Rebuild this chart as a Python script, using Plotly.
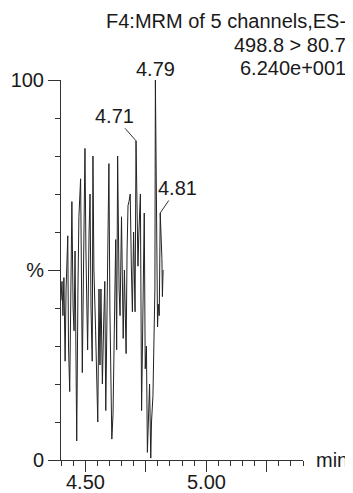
import plotly.graph_objects as go

# Retention time (min) and relative intensity (%)
time_min = [4.400, 4.404, 4.408, 4.412, 4.417, 4.421, 4.428, 4.431, 4.436, 4.441,
            4.445, 4.450, 4.454, 4.458, 4.465, 4.470, 4.474, 4.481, 4.485, 4.488,
            4.493, 4.499, 4.503, 4.510, 4.516, 4.520, 4.524, 4.529, 4.532, 4.536,
            4.543, 4.552, 4.557, 4.561, 4.565, 4.571, 4.576, 4.581, 4.585, 4.590,
            4.598, 4.602, 4.610, 4.615, 4.621, 4.626, 4.630, 4.634, 4.640, 4.644,
            4.650, 4.657, 4.662, 4.669, 4.673, 4.677, 4.681, 4.686, 4.691, 4.695,
            4.700, 4.706, 4.710, 4.715, 4.718, 4.722, 4.728, 4.733, 4.739, 4.744,
            4.748, 4.753, 4.757, 4.762, 4.766, 4.771, 4.774, 4.780, 4.784, 4.788,
            4.790, 4.795, 4.799, 4.802, 4.806, 4.810, 4.813, 4.817, 4.819, 4.822]
intensity = [42, 47, 38, 48, 26, 45, 59, 30, 18, 50,
             68, 40, 34, 55, 5, 45, 64, 74, 40, 23,
             50, 82, 55, 29, 60, 70, 40, 26, 80, 50,
             34, 10, 45, 25, 45, 20, 35, 47, 13, 40,
             78, 40, 5.5, 12, 40, 58, 29, 80, 45, 38,
             64, 32, 50, 28, 55, 67, 68, 70, 50, 39,
             60, 39, 84, 60, 51, 60, 70, 13, 45, 65,
             24, 30, 2, 15, 20, 0.5, 10, 17, 30, 45,
             100, 60, 35, 41, 38, 65, 60, 53, 43, 50]

peak_times = [4.79, 4.71, 4.81]
peak_values = [100, 84, 65]
peak_labels = ["4.79", "4.71", "4.81"]

title_lines = ["F4:MRM of 5 channels,ES-", "498.8 > 80.7", "6.240e+001"]

x_major_vals = [4.50, 4.75, 5.00, 5.25]
x_label_vals = [4.50, 5.00]
x_label_text = ["4.50", "5.00"]
y_major_vals = [0, 50, 100]
y_major_text = ["0", "%", "100"]

FONT = "Liberation Sans, Arial, Helvetica, sans-serif"
TXT = "#1a1a1a"
AX = "#333333"

fig = go.Figure()
fig.add_trace(go.Scatter(x=time_min, y=intensity, mode="lines",
                         line=dict(color="#222222", width=1), hoverinfo="skip"))

# page body adds an 8px offset, so the figure is 8px smaller on each axis
fig.update_layout(
    width=345, height=485,
    margin=dict(l=53, r=50, t=72, b=33),
    paper_bgcolor="white", plot_bgcolor="white",
    showlegend=False,
    font=dict(family=FONT, size=20, color=TXT),
)
fig.update_xaxes(
    range=[4.40, 5.40], showgrid=False, zeroline=False, automargin=False,
    showline=True, linecolor=AX, linewidth=1,
    tickmode="array", tickvals=x_major_vals, showticklabels=False,
    ticks="outside", ticklen=11, tickcolor=AX, tickwidth=1,
    minor=dict(tickmode="linear", tick0=4.40, dtick=0.05, ticks="outside",
               ticklen=5, tickcolor=AX, tickwidth=1, showgrid=False),
)
fig.update_yaxes(
    range=[0, 100], showgrid=False, zeroline=False, automargin=False,
    showline=True, linecolor=AX, linewidth=1,
    tickmode="array", tickvals=y_major_vals, ticktext=y_major_text,
    ticks="outside", ticklen=12, tickcolor=AX, tickwidth=1,
    tickfont=dict(family=FONT, size=20, color=TXT),
    minor=dict(tickmode="linear", tick0=0, dtick=10, ticks="outside",
               ticklen=5, tickcolor=AX, tickwidth=1, showgrid=False),
)

# X tick labels (placed as annotations to sit closer to the axis)
for v, lab in zip(x_label_vals, x_label_text):
    fig.add_annotation(x=v, xref="x", y=0, yref="paper", text=lab,
                       xanchor="center", yanchor="top", yshift=-9,
                       showarrow=False, font=dict(family=FONT, size=20, color=TXT))

# Peak labels
offsets = [(0, -11, False), (-22, -25, True), (17, -25, True)]
for t, v, lab, (ax, ay, arrow) in zip(peak_times, peak_values, peak_labels, offsets):
    if arrow:
        fig.add_annotation(x=t, y=v, text=lab, showarrow=True, arrowhead=0,
                           arrowwidth=1, arrowcolor=AX, ax=ax, ay=ay,
                           font=dict(family=FONT, size=20, color=TXT))
    else:
        fig.add_annotation(x=t, y=v, text=lab, showarrow=False, yshift=-ay,
                           font=dict(family=FONT, size=20, color=TXT))

# Header text
for line, yp in zip(title_lines, [1.1553, 1.0934, 1.0316]):
    fig.add_annotation(xref="paper", yref="paper", x=1.186, y=yp, text=line,
                       xanchor="right", yanchor="middle", showarrow=False,
                       font=dict(family=FONT, size=20, color=TXT))

# Axis unit
fig.add_annotation(xref="paper", yref="y", x=1.045, y=0, text="min",
                   xanchor="left", yanchor="middle", showarrow=False,
                   font=dict(family=FONT, size=20, color=TXT))

fig.write_html("out.html")
